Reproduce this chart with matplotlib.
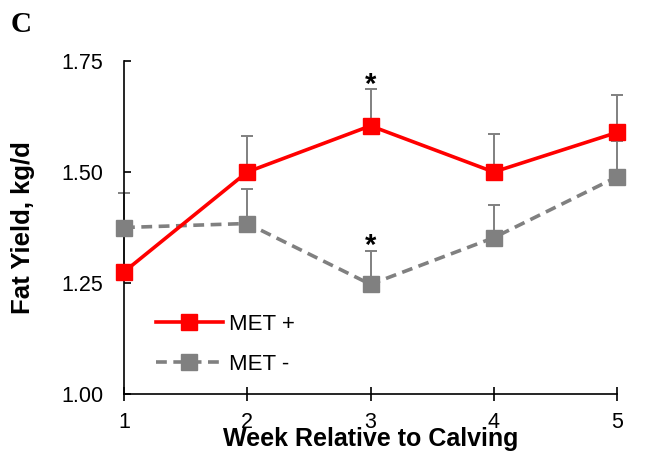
import matplotlib
matplotlib.use("Agg")
import matplotlib.pyplot as plt

weeks = [1, 2, 3, 4, 5]
met_plus = [1.275, 1.500, 1.604, 1.500, 1.589]
met_plus_err = [0.080, 0.082, 0.082, 0.085, 0.084]
met_minus = [1.375, 1.384, 1.247, 1.352, 1.489]
met_minus_err = [0.077, 0.077, 0.076, 0.074, 0.080]
yticks = [1.00, 1.25, 1.50, 1.75]
ytick_labels = ["1.00", "1.25", "1.50", "1.75"]
sig_weeks = [3]

plt.rcParams['font.family'] = ['Liberation Sans', 'DejaVu Sans']

fig = plt.figure(figsize=(6.6, 4.57), dpi=100)
ax = fig.add_axes([124/660, 1-394/457, (617-124)/660, (394-61)/457])

RED = '#ff0000'
GRAY = '#808080'

# error bars (upper only)
ax.errorbar(weeks, met_minus, yerr=[[0]*5, met_minus_err], fmt='none',
            ecolor=GRAY, elinewidth=1.4, capsize=4.5, capthick=1.4, zorder=2, clip_on=False)
ax.errorbar(weeks, met_plus, yerr=[[0]*5, met_plus_err], fmt='none',
            ecolor=GRAY, elinewidth=1.4, capsize=4.5, capthick=1.4, zorder=2, clip_on=False)

l2, = ax.plot(weeks, met_minus, color=GRAY, lw=2.6, linestyle=(0, (3, 1.8)),
              marker='s', markersize=12, markerfacecolor=GRAY, markeredgecolor=GRAY,
              label='MET -', zorder=3, clip_on=False)
l1, = ax.plot(weeks, met_plus, color=RED, lw=2.6, marker='s', markersize=12,
              markerfacecolor=RED, markeredgecolor=RED, label='MET +', zorder=4, clip_on=False)

# significance asterisks
for w in sig_weeks:
    i = weeks.index(w)
    ax.text(w, met_plus[i] + met_plus_err[i] - 0.008, '*', ha='center', va='baseline',
            fontsize=21, fontweight='bold')
    ax.text(w, met_minus[i] + met_minus_err[i] - 0.008, '*', ha='center', va='baseline',
            fontsize=21, fontweight='bold')

ax.set_xlim(1, 5)
ax.set_ylim(1.0, 1.75)
ax.set_xticks(weeks)
ax.set_xticklabels([str(w) for w in weeks])
ax.set_yticks(yticks)
ax.set_yticklabels(ytick_labels)

for s in ['top', 'right']:
    ax.spines[s].set_visible(False)
for s in ['left', 'bottom']:
    ax.spines[s].set_linewidth(1.2)
    ax.spines[s].set_color('black')

ax.tick_params(axis='y', direction='in', length=5, width=1.2, pad=15, labelsize=15.5)
ax.tick_params(axis='x', direction='inout', length=10, width=1.2, pad=8, labelsize=15.5)

ax.set_ylabel('Fat Yield, kg/d', fontsize=18.5, fontweight='bold')
ax.yaxis.set_label_coords(-0.18, 0.5)
ax.set_xlabel('Week Relative to Calving', fontsize=18, fontweight='bold')
ax.xaxis.set_label_coords(0.5, -0.1)
ax.xaxis.label.set_va('top')

leg = ax.legend(handles=[l1, l2], loc='upper left', bbox_to_anchor=(0.065, 0.24),
                frameon=False, fontsize=16, borderpad=0, borderaxespad=0,
                handletextpad=0.3, labelspacing=0.85, handlelength=3, numpoints=1)

fig.text(11/660, 1-11/457, 'C', fontsize=21, fontweight='bold', va='top', ha='left',
         family=['Liberation Serif', 'DejaVu Serif'])

fig.savefig('out.png', dpi=100)
